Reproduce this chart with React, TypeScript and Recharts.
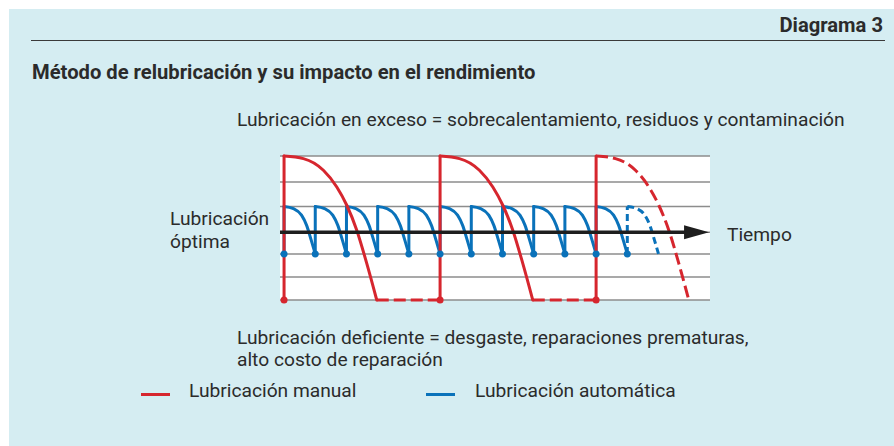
import React from "react";
import { ComposedChart, Line, XAxis, YAxis, CartesianGrid } from "recharts";

// levels (0 = red minimum, 100 = red maximum), grid lines as drawn in the source
const gridLevels = [0, 16, 32, 47, 65, 82, 100];
const redLow = 0;
const redHigh = 100;
const blueLow = 32;
const blueHigh = 65;
const axisLevel = 47;

// time in units of one automatic relubrication interval
const redStarts = [0, 5];
const redDashedStarts = [10];
const redShapeT = [0, 0.62, 1.26, 1.69, 2.01, 2.33, 2.65, 2.97];
const redShapeV = [100, 98.2, 90.1, 78.5, 65.8, 48.5, 25.4, 0];

const blueStarts = [0, 1, 2, 3, 4, 5, 6, 7, 8, 9, 10];
const blueDashedStarts = [11];
const blueShapeT = [0, 0.3, 0.56, 0.72, 0.87, 1];
const blueShapeV = [65, 63.5, 58.9, 52, 41.6, 32];

const timeDomain = [-0.13, 13.65];
const axisFrom = -0.13;
const axisTo = 12.85;

const RED = "#d6262e";
const BLUE = "#0a72ba";
const TEXT = "#2b2b2b";
const FONT = "Roboto, 'Noto Sans', sans-serif";

type Pt = { t: number; v: number | null };

const verticals = (starts: number[], low: number, high: number): Pt[] =>
  starts.flatMap((s) => [
    { t: s, v: low },
    { t: s, v: high },
    { t: s, v: null },
  ]);

const curves = (starts: number[], T: number[], V: number[]): Pt[] =>
  starts.flatMap((s) => [
    ...T.map((t, i) => ({ t: s + t, v: V[i] })),
    { t: s + T[T.length - 1], v: null },
  ]);

const allRedStarts = [...redStarts, ...redDashedStarts];
const allBlueStarts = [...blueStarts, ...blueDashedStarts];

const redFlats: Pt[] = allRedStarts.slice(0, -1).flatMap((s, i) => [
  { t: s + redShapeT[redShapeT.length - 1], v: redLow },
  { t: allRedStarts[i + 1], v: redLow },
  { t: allRedStarts[i + 1], v: null },
]);

const redDots = allRedStarts.map((s) => ({ t: s, v: redLow }));
const blueDots = allBlueStarts.map((s) => ({ t: s, v: blueLow }));
const axisLine = [
  { t: axisFrom, v: axisLevel },
  { t: axisTo, v: axisLevel },
];

const ArrowHead = (props: any) => {
  const { cx, cy, index } = props;
  if (index !== 1) return <g key={`ah-${index}`} />;
  return (
    <polygon
      key="ah"
      points={`${cx - 1},${cy - 7} ${cx + 24},${cy} ${cx - 1},${cy + 7}`}
      fill="#1e1e1e"
    />
  );
};

const common = {
  dataKey: "v",
  dot: false,
  activeDot: false,
  isAnimationActive: false,
  strokeWidth: 3,
  strokeLinejoin: "round" as const,
};

const txt = (extra: React.CSSProperties): React.CSSProperties => ({
  position: "absolute",
  fontFamily: FONT,
  color: TEXT,
  fontSize: 19.2,
  whiteSpace: "nowrap",
  ...extra,
});

export default function App() {
  return (
    <div style={{ position: "absolute", left: 0, top: 0, width: 894, height: 446, background: "#fff", overflow: "hidden" }}>
      <div style={{ position: "absolute", left: 9, top: 9, width: 885, height: 437, background: "#d5edf2" }} />
      <div style={{ position: "absolute", left: 0, top: 0 }}>
        <ComposedChart width={894} height={446} margin={{ top: 156, right: 184, bottom: 146, left: 280 }}>
          <CartesianGrid vertical={false} fill="#ffffff" stroke="#8d8d8d" strokeWidth={1.5} />
          <XAxis dataKey="t" type="number" domain={timeDomain} allowDataOverflow hide />
          <YAxis type="number" domain={[redLow, redHigh]} ticks={gridLevels} interval={0} hide />

          <Line {...common} data={verticals(blueStarts, blueLow, blueHigh)} type="linear" stroke={BLUE} strokeLinecap="round" />
          <Line {...common} data={curves(blueStarts, blueShapeT, blueShapeV)} type="monotone" stroke={BLUE} strokeLinecap="round" />
          <Line {...common} data={verticals(blueDashedStarts, blueLow, blueHigh)} type="linear" stroke={BLUE} strokeDasharray="7 4" />
          <Line {...common} data={curves(blueDashedStarts, blueShapeT, blueShapeV)} type="monotone" stroke={BLUE} strokeDasharray="7 4" />
          <Line {...common} data={blueDots} type="linear" stroke="none" dot={{ r: 3.5, fill: BLUE, stroke: "none" }} />

          <Line {...common} data={verticals(allRedStarts, redLow, redHigh)} type="linear" stroke={RED} strokeLinecap="round" />
          <Line {...common} data={curves(redStarts, redShapeT, redShapeV)} type="monotone" stroke={RED} strokeLinecap="round" />
          <Line {...common} data={redFlats} type="linear" stroke={RED} strokeDasharray="12 5" />
          <Line {...common} data={curves(redDashedStarts, redShapeT, redShapeV)} type="monotone" stroke={RED} strokeDasharray="12 5" />
          <Line {...common} data={redDots} type="linear" stroke="none" dot={{ r: 3.5, fill: RED, stroke: "none" }} />

          <Line {...common} data={axisLine} type="linear" stroke="#1e1e1e" strokeWidth={3.5} dot={ArrowHead} />
        </ComposedChart>
      </div>

      <div style={txt({ right: 11, top: 12.5, fontWeight: 700, fontSize: 20.2, lineHeight: "24px" })}>Diagrama 3</div>
      <div style={{ position: "absolute", left: 31, width: 854, top: 39.5, height: 1.5, background: "#3a3a3a" }} />
      <div style={txt({ left: 32, top: 60, fontWeight: 700, fontSize: 20.2, lineHeight: "24px" })}>
        Método de relubricación y su impacto en el rendimiento
      </div>
      <div style={txt({ left: 237, top: 108, lineHeight: "24px" })}>
        Lubricación en exceso = sobrecalentamiento, residuos y contaminación
      </div>
      <div style={txt({ left: 170, top: 207, lineHeight: "23px" })}>
        Lubricación
        <br />
        óptima
      </div>
      <div style={txt({ left: 727, top: 223, lineHeight: "24px" })}>Tiempo</div>
      <div style={txt({ left: 237, top: 327, lineHeight: "22px" })}>
        Lubricación deficiente = desgaste, reparaciones prematuras,
        <br />
        alto costo de reparación
      </div>
      <div style={{ position: "absolute", left: 141, top: 392.5, width: 29, height: 3.5, background: RED }} />
      <div style={txt({ left: 189, top: 379, lineHeight: "24px" })}>Lubricación manual</div>
      <div style={{ position: "absolute", left: 426, top: 392.5, width: 29, height: 3.5, background: BLUE }} />
      <div style={txt({ left: 475, top: 379, lineHeight: "24px" })}>Lubricación automática</div>
    </div>
  );
}
